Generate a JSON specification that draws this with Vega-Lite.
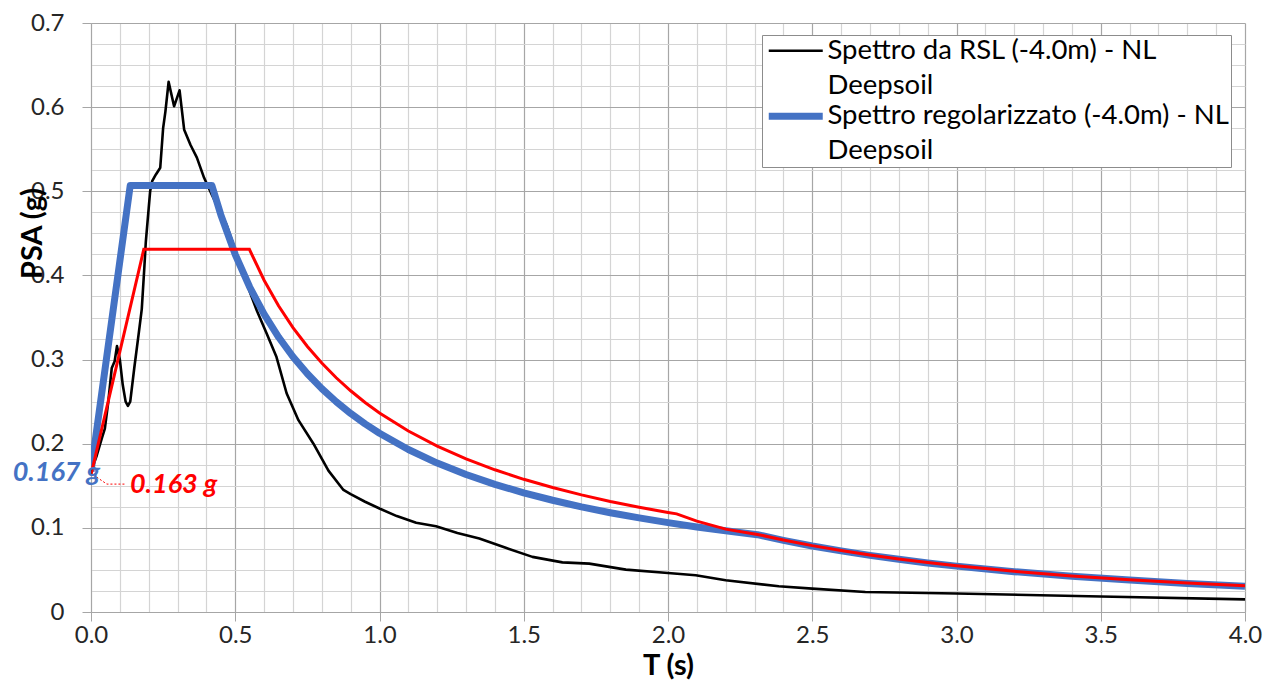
{
  "$schema": "https://vega.github.io/schema/vega-lite/v6.json",
  "width": 1154,
  "height": 589,
  "autosize": "none",
  "padding": {"left": 91, "top": 23, "right": 22, "bottom": 76},
  "background": "white",
  "datasets": {
    "rsl": [
      {"T": 0, "PSA": 0.167, "serie": "Spettro da RSL (-4.0m) - NL Deepsoil"},
      {"T": 0.02, "PSA": 0.186, "serie": "Spettro da RSL (-4.0m) - NL Deepsoil"},
      {"T": 0.038, "PSA": 0.207, "serie": "Spettro da RSL (-4.0m) - NL Deepsoil"},
      {"T": 0.048, "PSA": 0.218, "serie": "Spettro da RSL (-4.0m) - NL Deepsoil"},
      {"T": 0.06, "PSA": 0.25, "serie": "Spettro da RSL (-4.0m) - NL Deepsoil"},
      {"T": 0.072, "PSA": 0.29, "serie": "Spettro da RSL (-4.0m) - NL Deepsoil"},
      {"T": 0.082, "PSA": 0.298, "serie": "Spettro da RSL (-4.0m) - NL Deepsoil"},
      {"T": 0.09, "PSA": 0.316, "serie": "Spettro da RSL (-4.0m) - NL Deepsoil"},
      {"T": 0.1, "PSA": 0.3, "serie": "Spettro da RSL (-4.0m) - NL Deepsoil"},
      {"T": 0.11, "PSA": 0.27, "serie": "Spettro da RSL (-4.0m) - NL Deepsoil"},
      {"T": 0.12, "PSA": 0.25, "serie": "Spettro da RSL (-4.0m) - NL Deepsoil"},
      {"T": 0.128, "PSA": 0.245, "serie": "Spettro da RSL (-4.0m) - NL Deepsoil"},
      {"T": 0.136, "PSA": 0.25, "serie": "Spettro da RSL (-4.0m) - NL Deepsoil"},
      {"T": 0.15, "PSA": 0.29, "serie": "Spettro da RSL (-4.0m) - NL Deepsoil"},
      {"T": 0.165, "PSA": 0.33, "serie": "Spettro da RSL (-4.0m) - NL Deepsoil"},
      {"T": 0.176, "PSA": 0.36, "serie": "Spettro da RSL (-4.0m) - NL Deepsoil"},
      {"T": 0.185, "PSA": 0.41, "serie": "Spettro da RSL (-4.0m) - NL Deepsoil"},
      {"T": 0.19, "PSA": 0.44, "serie": "Spettro da RSL (-4.0m) - NL Deepsoil"},
      {"T": 0.2, "PSA": 0.48, "serie": "Spettro da RSL (-4.0m) - NL Deepsoil"},
      {"T": 0.205, "PSA": 0.5, "serie": "Spettro da RSL (-4.0m) - NL Deepsoil"},
      {"T": 0.212, "PSA": 0.512, "serie": "Spettro da RSL (-4.0m) - NL Deepsoil"},
      {"T": 0.225, "PSA": 0.52, "serie": "Spettro da RSL (-4.0m) - NL Deepsoil"},
      {"T": 0.24, "PSA": 0.528, "serie": "Spettro da RSL (-4.0m) - NL Deepsoil"},
      {"T": 0.25, "PSA": 0.575, "serie": "Spettro da RSL (-4.0m) - NL Deepsoil"},
      {"T": 0.258, "PSA": 0.595, "serie": "Spettro da RSL (-4.0m) - NL Deepsoil"},
      {"T": 0.269, "PSA": 0.63, "serie": "Spettro da RSL (-4.0m) - NL Deepsoil"},
      {"T": 0.288, "PSA": 0.601, "serie": "Spettro da RSL (-4.0m) - NL Deepsoil"},
      {"T": 0.307, "PSA": 0.62, "serie": "Spettro da RSL (-4.0m) - NL Deepsoil"},
      {"T": 0.323, "PSA": 0.573, "serie": "Spettro da RSL (-4.0m) - NL Deepsoil"},
      {"T": 0.345, "PSA": 0.555, "serie": "Spettro da RSL (-4.0m) - NL Deepsoil"},
      {"T": 0.367, "PSA": 0.54, "serie": "Spettro da RSL (-4.0m) - NL Deepsoil"},
      {"T": 0.392, "PSA": 0.516, "serie": "Spettro da RSL (-4.0m) - NL Deepsoil"},
      {"T": 0.42, "PSA": 0.495, "serie": "Spettro da RSL (-4.0m) - NL Deepsoil"},
      {"T": 0.47, "PSA": 0.46, "serie": "Spettro da RSL (-4.0m) - NL Deepsoil"},
      {"T": 0.5, "PSA": 0.43, "serie": "Spettro da RSL (-4.0m) - NL Deepsoil"},
      {"T": 0.54, "PSA": 0.39, "serie": "Spettro da RSL (-4.0m) - NL Deepsoil"},
      {"T": 0.575, "PSA": 0.358, "serie": "Spettro da RSL (-4.0m) - NL Deepsoil"},
      {"T": 0.61, "PSA": 0.33, "serie": "Spettro da RSL (-4.0m) - NL Deepsoil"},
      {"T": 0.643, "PSA": 0.303, "serie": "Spettro da RSL (-4.0m) - NL Deepsoil"},
      {"T": 0.678, "PSA": 0.26, "serie": "Spettro da RSL (-4.0m) - NL Deepsoil"},
      {"T": 0.719, "PSA": 0.228, "serie": "Spettro da RSL (-4.0m) - NL Deepsoil"},
      {"T": 0.771, "PSA": 0.2, "serie": "Spettro da RSL (-4.0m) - NL Deepsoil"},
      {"T": 0.823, "PSA": 0.168, "serie": "Spettro da RSL (-4.0m) - NL Deepsoil"},
      {"T": 0.875, "PSA": 0.145, "serie": "Spettro da RSL (-4.0m) - NL Deepsoil"},
      {"T": 0.9, "PSA": 0.14, "serie": "Spettro da RSL (-4.0m) - NL Deepsoil"},
      {"T": 0.95, "PSA": 0.131, "serie": "Spettro da RSL (-4.0m) - NL Deepsoil"},
      {"T": 1.0, "PSA": 0.123, "serie": "Spettro da RSL (-4.0m) - NL Deepsoil"},
      {"T": 1.06, "PSA": 0.114, "serie": "Spettro da RSL (-4.0m) - NL Deepsoil"},
      {"T": 1.127, "PSA": 0.106, "serie": "Spettro da RSL (-4.0m) - NL Deepsoil"},
      {"T": 1.196, "PSA": 0.102, "serie": "Spettro da RSL (-4.0m) - NL Deepsoil"},
      {"T": 1.27, "PSA": 0.094, "serie": "Spettro da RSL (-4.0m) - NL Deepsoil"},
      {"T": 1.346, "PSA": 0.0873, "serie": "Spettro da RSL (-4.0m) - NL Deepsoil"},
      {"T": 1.44, "PSA": 0.076, "serie": "Spettro da RSL (-4.0m) - NL Deepsoil"},
      {"T": 1.53, "PSA": 0.0655, "serie": "Spettro da RSL (-4.0m) - NL Deepsoil"},
      {"T": 1.634, "PSA": 0.059, "serie": "Spettro da RSL (-4.0m) - NL Deepsoil"},
      {"T": 1.727, "PSA": 0.0575, "serie": "Spettro da RSL (-4.0m) - NL Deepsoil"},
      {"T": 1.854, "PSA": 0.0504, "serie": "Spettro da RSL (-4.0m) - NL Deepsoil"},
      {"T": 2.0, "PSA": 0.0464, "serie": "Spettro da RSL (-4.0m) - NL Deepsoil"},
      {"T": 2.096, "PSA": 0.0437, "serie": "Spettro da RSL (-4.0m) - NL Deepsoil"},
      {"T": 2.2, "PSA": 0.0377, "serie": "Spettro da RSL (-4.0m) - NL Deepsoil"},
      {"T": 2.384, "PSA": 0.0306, "serie": "Spettro da RSL (-4.0m) - NL Deepsoil"},
      {"T": 2.5, "PSA": 0.0278, "serie": "Spettro da RSL (-4.0m) - NL Deepsoil"},
      {"T": 2.684, "PSA": 0.0238, "serie": "Spettro da RSL (-4.0m) - NL Deepsoil"},
      {"T": 3.0, "PSA": 0.022, "serie": "Spettro da RSL (-4.0m) - NL Deepsoil"},
      {"T": 3.5, "PSA": 0.0185, "serie": "Spettro da RSL (-4.0m) - NL Deepsoil"},
      {"T": 4.0, "PSA": 0.015, "serie": "Spettro da RSL (-4.0m) - NL Deepsoil"}
    ],
    "reg": [
      {"T": 0, "PSA": 0.167, "serie": "Spettro regolarizzato (-4.0m) - NL Deepsoil"},
      {"T": 0.136, "PSA": 0.507, "serie": "Spettro regolarizzato (-4.0m) - NL Deepsoil"},
      {"T": 0.419, "PSA": 0.507, "serie": "Spettro regolarizzato (-4.0m) - NL Deepsoil"},
      {"T": 0.45, "PSA": 0.472, "serie": "Spettro regolarizzato (-4.0m) - NL Deepsoil"},
      {"T": 0.5, "PSA": 0.4248, "serie": "Spettro regolarizzato (-4.0m) - NL Deepsoil"},
      {"T": 0.55, "PSA": 0.3862, "serie": "Spettro regolarizzato (-4.0m) - NL Deepsoil"},
      {"T": 0.6, "PSA": 0.354, "serie": "Spettro regolarizzato (-4.0m) - NL Deepsoil"},
      {"T": 0.65, "PSA": 0.3268, "serie": "Spettro regolarizzato (-4.0m) - NL Deepsoil"},
      {"T": 0.7, "PSA": 0.3034, "serie": "Spettro regolarizzato (-4.0m) - NL Deepsoil"},
      {"T": 0.75, "PSA": 0.2832, "serie": "Spettro regolarizzato (-4.0m) - NL Deepsoil"},
      {"T": 0.8, "PSA": 0.2655, "serie": "Spettro regolarizzato (-4.0m) - NL Deepsoil"},
      {"T": 0.85, "PSA": 0.2499, "serie": "Spettro regolarizzato (-4.0m) - NL Deepsoil"},
      {"T": 0.9, "PSA": 0.236, "serie": "Spettro regolarizzato (-4.0m) - NL Deepsoil"},
      {"T": 0.95, "PSA": 0.2236, "serie": "Spettro regolarizzato (-4.0m) - NL Deepsoil"},
      {"T": 1.0, "PSA": 0.2124, "serie": "Spettro regolarizzato (-4.0m) - NL Deepsoil"},
      {"T": 1.1, "PSA": 0.1931, "serie": "Spettro regolarizzato (-4.0m) - NL Deepsoil"},
      {"T": 1.2, "PSA": 0.177, "serie": "Spettro regolarizzato (-4.0m) - NL Deepsoil"},
      {"T": 1.3, "PSA": 0.1634, "serie": "Spettro regolarizzato (-4.0m) - NL Deepsoil"},
      {"T": 1.4, "PSA": 0.1517, "serie": "Spettro regolarizzato (-4.0m) - NL Deepsoil"},
      {"T": 1.5, "PSA": 0.1416, "serie": "Spettro regolarizzato (-4.0m) - NL Deepsoil"},
      {"T": 1.6, "PSA": 0.1328, "serie": "Spettro regolarizzato (-4.0m) - NL Deepsoil"},
      {"T": 1.7, "PSA": 0.1249, "serie": "Spettro regolarizzato (-4.0m) - NL Deepsoil"},
      {"T": 1.8, "PSA": 0.118, "serie": "Spettro regolarizzato (-4.0m) - NL Deepsoil"},
      {"T": 1.9, "PSA": 0.1118, "serie": "Spettro regolarizzato (-4.0m) - NL Deepsoil"},
      {"T": 2.0, "PSA": 0.1062, "serie": "Spettro regolarizzato (-4.0m) - NL Deepsoil"},
      {"T": 2.1, "PSA": 0.1011, "serie": "Spettro regolarizzato (-4.0m) - NL Deepsoil"},
      {"T": 2.2, "PSA": 0.0965, "serie": "Spettro regolarizzato (-4.0m) - NL Deepsoil"},
      {"T": 2.31, "PSA": 0.0919, "serie": "Spettro regolarizzato (-4.0m) - NL Deepsoil"},
      {"T": 2.4, "PSA": 0.0852, "serie": "Spettro regolarizzato (-4.0m) - NL Deepsoil"},
      {"T": 2.5, "PSA": 0.0785, "serie": "Spettro regolarizzato (-4.0m) - NL Deepsoil"},
      {"T": 2.6, "PSA": 0.0726, "serie": "Spettro regolarizzato (-4.0m) - NL Deepsoil"},
      {"T": 2.7, "PSA": 0.0673, "serie": "Spettro regolarizzato (-4.0m) - NL Deepsoil"},
      {"T": 2.8, "PSA": 0.0626, "serie": "Spettro regolarizzato (-4.0m) - NL Deepsoil"},
      {"T": 2.9, "PSA": 0.0583, "serie": "Spettro regolarizzato (-4.0m) - NL Deepsoil"},
      {"T": 3.0, "PSA": 0.0545, "serie": "Spettro regolarizzato (-4.0m) - NL Deepsoil"},
      {"T": 3.2, "PSA": 0.0479, "serie": "Spettro regolarizzato (-4.0m) - NL Deepsoil"},
      {"T": 3.4, "PSA": 0.0424, "serie": "Spettro regolarizzato (-4.0m) - NL Deepsoil"},
      {"T": 3.6, "PSA": 0.0379, "serie": "Spettro regolarizzato (-4.0m) - NL Deepsoil"},
      {"T": 3.8, "PSA": 0.034, "serie": "Spettro regolarizzato (-4.0m) - NL Deepsoil"},
      {"T": 4.0, "PSA": 0.0307, "serie": "Spettro regolarizzato (-4.0m) - NL Deepsoil"}
    ],
    "ntc": [
      {"T": 0, "PSA": 0.163},
      {"T": 0.183, "PSA": 0.431},
      {"T": 0.549, "PSA": 0.431},
      {"T": 0.6, "PSA": 0.3943},
      {"T": 0.65, "PSA": 0.364},
      {"T": 0.7, "PSA": 0.338},
      {"T": 0.75, "PSA": 0.3155},
      {"T": 0.8, "PSA": 0.2958},
      {"T": 0.85, "PSA": 0.2784},
      {"T": 0.9, "PSA": 0.2629},
      {"T": 0.95, "PSA": 0.249},
      {"T": 1.0, "PSA": 0.2366},
      {"T": 1.1, "PSA": 0.2151},
      {"T": 1.2, "PSA": 0.1972},
      {"T": 1.3, "PSA": 0.182},
      {"T": 1.4, "PSA": 0.169},
      {"T": 1.5, "PSA": 0.1577},
      {"T": 1.6, "PSA": 0.1479},
      {"T": 1.7, "PSA": 0.1392},
      {"T": 1.8, "PSA": 0.1314},
      {"T": 1.9, "PSA": 0.1245},
      {"T": 2.0, "PSA": 0.1183},
      {"T": 2.03, "PSA": 0.1166},
      {"T": 2.1, "PSA": 0.108},
      {"T": 2.2, "PSA": 0.0985},
      {"T": 2.31, "PSA": 0.0922},
      {"T": 2.4, "PSA": 0.0856},
      {"T": 2.5, "PSA": 0.0789},
      {"T": 2.6, "PSA": 0.073},
      {"T": 2.7, "PSA": 0.0677},
      {"T": 2.8, "PSA": 0.063},
      {"T": 2.9, "PSA": 0.0587},
      {"T": 3.0, "PSA": 0.0549},
      {"T": 3.2, "PSA": 0.0483},
      {"T": 3.4, "PSA": 0.0428},
      {"T": 3.6, "PSA": 0.0383},
      {"T": 3.8, "PSA": 0.0344},
      {"T": 4.0, "PSA": 0.0311}
    ],
    "leader": [
      {"T": 0.008, "PSA": 0.163},
      {"T": 0.055, "PSA": 0.152},
      {"T": 0.12, "PSA": 0.152}
    ],
    "annReg": [{"T": 0, "PSA": 0.1655, "label": "0.167 g"}],
    "annNtc": [{"T": 0.135, "PSA": 0.1505, "label": "0.163 g"}]
  },
  "encoding": {
    "x": {
      "field": "T", "type": "quantitative",
      "scale": {"domain": [0, 4], "nice": false, "zero": false},
      "axis": {
        "title": "T (s)",
        "values": [0,0.1,0.2,0.3,0.4,0.5,0.6,0.7,0.8,0.9,1,1.1,1.2,1.3,1.4,1.5,1.6,1.7,1.8,1.9,2,2.1,2.2,2.3,2.4,2.5,2.6,2.7,2.8,2.9,3,3.1,3.2,3.3,3.4,3.5,3.6,3.7,3.8,3.9,4],
        "labelExpr": "abs(datum.value*2-round(datum.value*2))<0.001 ? format(datum.value,'.1f') : ''",
        "gridColor": {"condition": {"test": "abs(datum.value*2-round(datum.value*2))<0.001", "value": "#a6a6a6"}, "value": "#d4d4d4"},
        "tickOpacity": {"condition": {"test": "abs(datum.value*2-round(datum.value*2))<0.001", "value": 1}, "value": 0},
        "labelPadding": 2,
        "titlePadding": 4
      }
    },
    "y": {
      "field": "PSA", "type": "quantitative",
      "scale": {"domain": [0, 0.7], "nice": false},
      "axis": {
        "title": "PSA (g)",
        "values": [0,0.025,0.05,0.075,0.1,0.125,0.15,0.175,0.2,0.225,0.25,0.275,0.3,0.325,0.35,0.375,0.4,0.425,0.45,0.475,0.5,0.525,0.55,0.575,0.6,0.625,0.65,0.675,0.7],
        "labelExpr": "abs(datum.value*10-round(datum.value*10))<0.001 ? format(datum.value,'') : ''",
        "gridColor": {"condition": {"test": "abs(datum.value*10-round(datum.value*10))<0.001", "value": "#a6a6a6"}, "value": "#d4d4d4"},
        "tickOpacity": {"condition": {"test": "abs(datum.value*10-round(datum.value*10))<0.001", "value": 1}, "value": 0},
        "labelPadding": 18,
        "titleX": -59,
        "titleY": 210,
        "titleAngle": -90,
        "titleAlign": "center",
        "titleBaseline": "middle"
      }
    }
  },
  "layer": [
    {
      "data": {"name": "rsl"},
      "mark": {"type": "line", "strokeJoin": "round", "clip": true},
      "encoding": {
        "color": {
          "field": "serie", "type": "nominal",
          "scale": {"domain": ["Spettro da RSL (-4.0m) - NL Deepsoil", "Spettro regolarizzato (-4.0m) - NL Deepsoil"], "range": ["#000000", "#4472C4"]},
          "legend": {"labelExpr": "[replace(datum.label, ' Deepsoil', '') + '\u00a0\u00a0', 'Deepsoil']", "symbolType": "M-3,0H3", "symbolSize": 324, "symbolOffset": 18, "labelOffset": 18}
        },
        "strokeWidth": {
          "field": "serie", "type": "nominal",
          "scale": {"domain": ["Spettro da RSL (-4.0m) - NL Deepsoil", "Spettro regolarizzato (-4.0m) - NL Deepsoil"], "range": [2.6, 7]},
          "legend": {"labelExpr": "[replace(datum.label, ' Deepsoil', '') + '\u00a0\u00a0', 'Deepsoil']", "symbolType": "M-3,0H3", "symbolSize": 324, "symbolOffset": 18, "labelOffset": 18}
        }
      }
    },
    {
      "data": {"name": "reg"},
      "mark": {"type": "line", "strokeJoin": "round", "clip": true},
      "encoding": {
        "color": {"field": "serie", "type": "nominal"},
        "strokeWidth": {"field": "serie", "type": "nominal"}
      }
    },
    {
      "data": {"name": "ntc"},
      "mark": {"type": "line", "color": "#FF0000", "strokeWidth": 3, "clip": true},
      "encoding": {}
    },
    {
      "data": {"name": "leader"},
      "mark": {"type": "line", "color": "#FF0000", "strokeWidth": 1, "strokeDash": [2, 2]},
      "encoding": {}
    },
    {
      "data": {"name": "annReg"},
      "mark": {"type": "text", "font": "Lato", "fontSize": 27, "fontWeight": "bold", "fontStyle": "italic", "baseline": "middle", "align": "right", "dx": 9, "color": "#4472C4"},
      "encoding": {"text": {"field": "label"}}
    },
    {
      "data": {"name": "annNtc"},
      "mark": {"type": "text", "font": "Lato", "fontSize": 27, "fontWeight": "bold", "fontStyle": "italic", "baseline": "middle", "align": "left", "color": "#FF0000"},
      "encoding": {"text": {"field": "label"}}
    }
  ],
  "config": {
    "view": {"stroke": null},
    "style": {"guide-label": {"lineHeight": 35}},
    "axis": {
      "labelFont": "Lato", "labelFontSize": 24, "labelColor": "#262626",
      "titleFont": "Lato", "titleFontSize": 29, "titleFontWeight": "bold", "titleColor": "#000000",
      "domainColor": "#a6a6a6", "tickColor": "#a6a6a6", "tickSize": 9,
      "labelOverlap": false, "labelFlush": false, "gridWidth": 1.2
    },
    "legend": {
      "orient": "none", "legendX": 671, "legendY": 12, "title": null,
      "strokeColor": "#8c8c8c", "fillColor": "#ffffff", "padding": 2, "rowPadding": 1.5,
      "labelFont": "Lato", "labelFontSize": 27.5, "labelColor": "#000000",
      "labelLimit": 600
    }
  }
}
